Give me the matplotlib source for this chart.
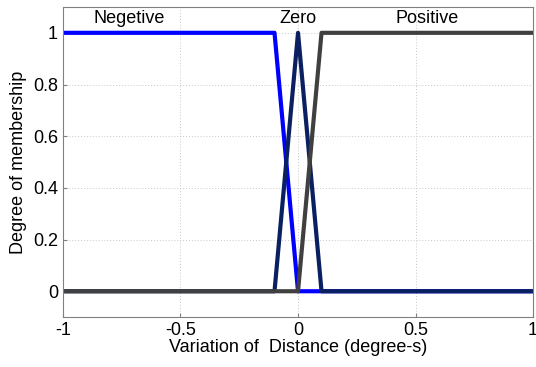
import matplotlib

matplotlib.use("Agg")
import matplotlib.pyplot as plt  # noqa: E402

plt.rcParams["font.family"] = ["Liberation Sans", "DejaVu Sans"]

# Membership functions (breakpoints)
neg_x = [-1, -0.1, 0, 1]
neg_y = [1, 1, 0, 0]
zero_x = [-1, -0.1, 0, 0.1, 1]
zero_y = [0, 0, 1, 0, 0]
pos_x = [-1, 0, 0.1, 1]
pos_y = [0, 0, 1, 1]

labels = ["Negetive", "Zero", "Positive"]
label_x = [-0.72, 0.0, 0.55]
label_y = [1.055, 1.055, 1.055]

xticks = [-1, -0.5, 0, 0.5, 1]
yticks = [0, 0.2, 0.4, 0.6, 0.8, 1]

fig = plt.figure(figsize=(5.36, 3.67), dpi=100)
ax = fig.add_axes([0.1175, 0.136, 0.877, 0.845])

ax.plot(neg_x, neg_y, color="#0000ff", linewidth=3)
ax.plot(zero_x, zero_y, color="#0a2060", linewidth=3)
ax.plot(pos_x, pos_y, color="#404040", linewidth=3)

for t, x, y in zip(labels, label_x, label_y):
    ax.text(x, y, t, ha="center", va="center", fontsize=13)

ax.set_xlim(-1, 1)
ax.set_ylim(-0.1, 1.1)
ax.set_xticks(xticks)
ax.set_yticks(yticks)
ax.set_xticklabels([f"{v:g}" for v in xticks])
ax.set_yticklabels([f"{v:g}" for v in yticks])
ax.tick_params(labelsize=13, direction="in", length=3, color="#808080")
ax.grid(True, linestyle=(0, (1, 2)), color="#c8c8c8", linewidth=0.7)
for s in ax.spines.values():
    s.set_color("#808080")
ax.set_xlabel("Variation of  Distance (degree-s)", fontsize=13, labelpad=0)
ax.set_ylabel("Degree of membership", fontsize=13, labelpad=4)

fig.savefig("out.png", dpi=100)
